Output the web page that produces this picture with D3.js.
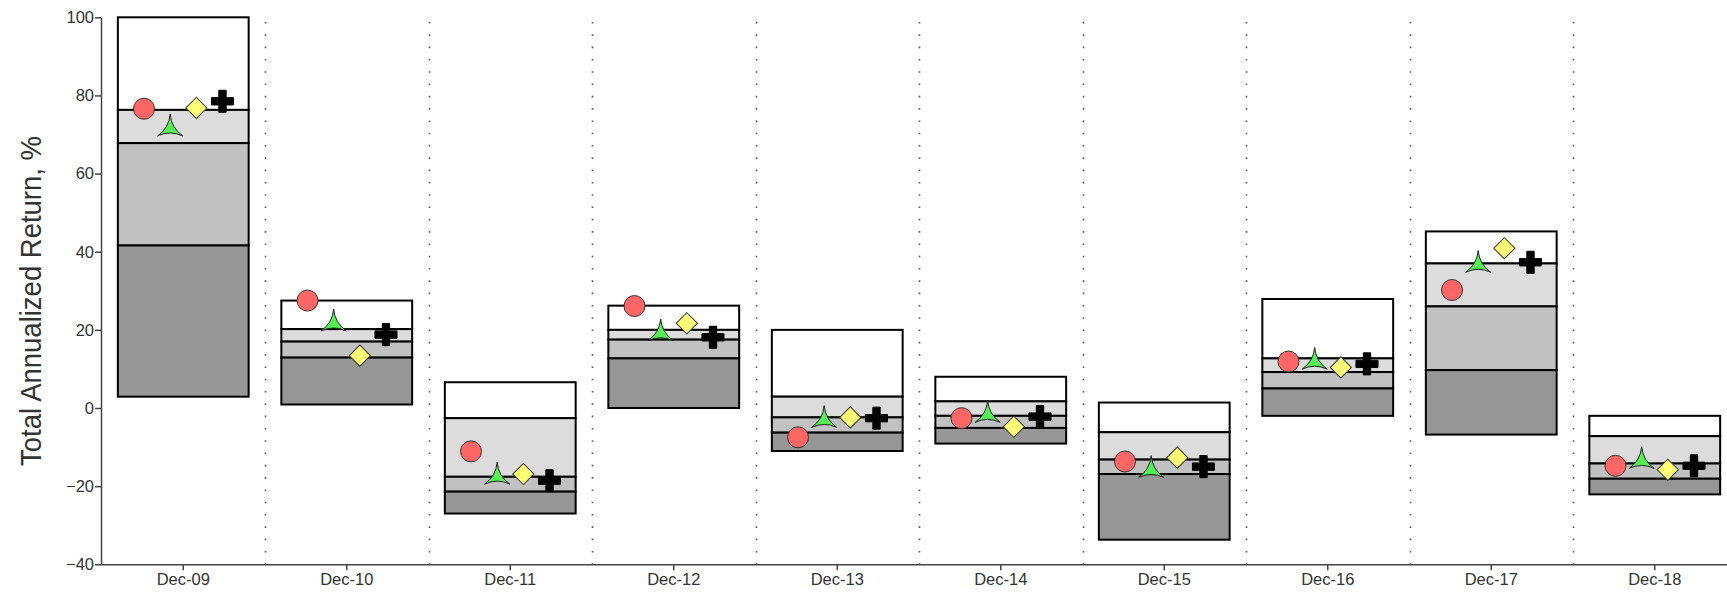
<!DOCTYPE html>
<html>
<head>
<meta charset="utf-8">
<script src="https://cdn.jsdelivr.net/npm/d3@7"></script>
<style>
  body { margin: 0; background: #fff; }
  svg { display: block; font-family: "Liberation Sans", Arial, sans-serif; }
</style>
</head>
<body>
<svg id="chart"></svg>
<script>
// categories (year ends)
let categories = ["Dec-09", "Dec-10", "Dec-11", "Dec-12", "Dec-13", "Dec-14", "Dec-15", "Dec-16", "Dec-17", "Dec-18"];
// box edges, top to bottom
let p05 = [100, 27.5, 6.6, 26.2, 20.0, 8.0, 1.4, 27.9, 45.2, -2.0];
let p25 = [76.3, 20.2, -2.6, 20.0, 2.9, 1.7, -6.2, 12.7, 37.0, -7.2];
let p50 = [67.8, 17.0, -17.6, 17.5, -2.4, -2.0, -13.2, 9.2, 26.0, -14.2];
let p75 = [41.6, 12.9, -21.4, 12.7, -6.3, -5.1, -16.9, 5.0, 9.7, -18.1];
let p95 = [2.9, 0.9, -27.0, 0.0, -11.0, -9.1, -33.7, -2.0, -6.8, -22.1];
// marker series
let circleVals = [76.6, 27.5, -11.1, 26.1, -7.5, -2.6, -13.7, 11.9, 30.2, -14.8];
let starVals = [71.5, 21.6, -17.6, 19.1, -3.1, -1.8, -15.9, 11.8, 36.6, -13.6];
let diamondVals = [76.8, 13.4, -16.9, 21.7, -2.4, -4.8, -12.7, 10.4, 40.9, -15.8];
let crossVals = [78.5, 18.8, -18.6, 18.1, -2.6, -2.2, -15.0, 11.3, 37.3, -14.8];
let yTicks = [-40, -20, 0, 20, 40, 60, 80, 100];

let width = 1727,
  height = 592;

let svg = d3.select("#chart").attr("width", width).attr("height", height);

let x = d3.scaleBand().domain(categories).range([101.5, 1736.5]).padding(0);
let y = d3.scaleLinear().domain([-40, 100]).range([564.3, 17.3]);
let bw = x.bandwidth();

// dotted separators
svg
  .append("g")
  .selectAll("line")
  .data(categories.slice(1))
  .enter()
  .append("line")
  .attr("x1", (d) => Math.round(x(d)) + 0.5)
  .attr("x2", (d) => Math.round(x(d)) + 0.5)
  .attr("y1", 22)
  .attr("y2", 564)
  .attr("stroke", "#555")
  .attr("stroke-width", 1.6)
  .attr("stroke-dasharray", "1.6,10.7");

// stacked boxes
let bands = [
  { hi: p05, lo: p25, fill: "#ffffff" },
  { hi: p25, lo: p50, fill: "#dcdcdc" },
  { hi: p50, lo: p75, fill: "#c0c1c0" },
  { hi: p75, lo: p95, fill: "#969696" },
];
bands.forEach((b) => {
  svg
    .append("g")
    .selectAll("rect")
    .data(categories)
    .enter()
    .append("rect")
    .attr("x", (d) => x(d) + bw * 0.1)
    .attr("width", bw * 0.8)
    .attr("y", (d, i) => y(b.hi[i]))
    .attr("height", (d, i) => y(b.lo[i]) - y(b.hi[i]))
    .attr("fill", b.fill)
    .attr("stroke", "#000")
    .attr("stroke-width", 2);
});

// markers
function mx(i, k) {
  return x(categories[i]) + bw * 0.1 + bw * 0.8 * (k + 1) / 5;
}

// three-pointed star with concave sides
let starPath = (function () {
  let R = 14.5, c = 1.4, p = "";
  for (let j = 0; j < 3; j++) {
    let a = -Math.PI / 2 + j * 2 * Math.PI / 3;
    let a2 = a + Math.PI / 3;
    let tip = [R * Math.cos(a), R * Math.sin(a)];
    let ctrl = [c * Math.cos(a2), c * Math.sin(a2)];
    let next = a + 2 * Math.PI / 3;
    let tip2 = [R * Math.cos(next), R * Math.sin(next)];
    if (j == 0) p += "M" + tip[0] + "," + tip[1];
    p += "Q" + ctrl[0] + "," + ctrl[1] + " " + tip2[0] + "," + tip2[1];
  }
  return p + "Z";
})();

let series = [
  { vals: circleVals, path: d3.symbol().type(d3.symbolCircle).size(Math.PI * 10.5 * 10.5)(), fill: "#ff6666", stroke: "#333", rot: 0 },
  { vals: starVals, path: starPath, fill: "#55ee55", stroke: "#222", rot: 0 },
  { vals: diamondVals, path: d3.symbol().type(d3.symbolSquare).size(225)(), fill: "#ffff77", stroke: "#333", rot: 45 },
  { vals: crossVals, path: d3.symbol().type(d3.symbolCross).size(270)(), fill: "#000", stroke: "#000", rot: 0 },
];
series.forEach((s, k) => {
  svg
    .append("g")
    .selectAll("path")
    .data(s.vals)
    .enter()
    .append("path")
    .attr("d", s.path)
    .attr("transform", (d, i) => "translate(" + mx(i, k) + "," + y(d) + ") rotate(" + s.rot + ")")
    .attr("fill", s.fill)
    .attr("stroke", s.stroke)
    .attr("stroke-width", 1);
});

// axes
let yAxis = svg
  .append("g")
  .attr("transform", "translate(101,0)")
  .call(d3.axisLeft(y).tickValues(yTicks).tickSize(6).tickSizeOuter(0).tickPadding(1));
let xAxis = svg
  .append("g")
  .attr("transform", "translate(0,564.3)")
  .call(d3.axisBottom(x).tickSize(6).tickSizeOuter(0).tickPadding(3));
xAxis.select(".domain").attr("d", "M101,0.5H1727");
[yAxis, xAxis].forEach((a) => {
  a.attr("font-size", null).attr("font-family", null);
  a.select(".domain").attr("stroke", "#444").attr("stroke-width", 1.5);
  a.selectAll(".tick line").attr("stroke", "#444").attr("stroke-width", 1.5);
  a.selectAll(".tick text")
    .attr("fill", "#333")
    .style("font-size", "16.5px")
    .style("font-family", "'Liberation Sans', Arial, sans-serif");
});

svg
  .append("text")
  .attr("transform", "translate(41,301) rotate(-90)")
  .attr("text-anchor", "middle")
  .attr("font-size", "29px")
  .attr("fill", "#333")
  .attr("textLength", 330)
  .attr("lengthAdjust", "spacingAndGlyphs")
  .text("Total Annualized Return, %");
</script>
</body>
</html>
